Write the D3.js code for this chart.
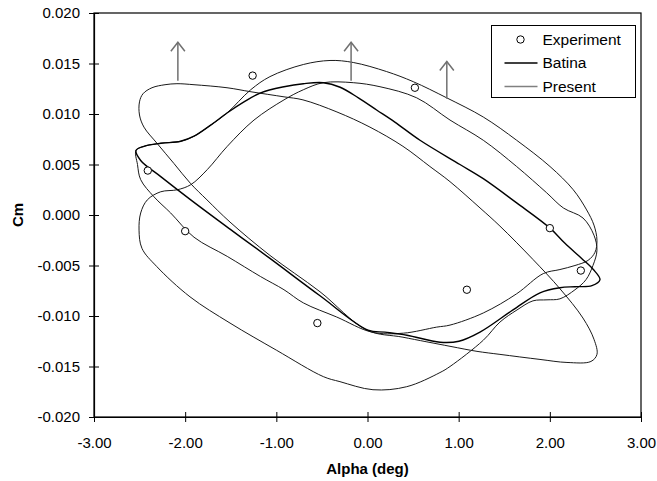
<!DOCTYPE html>
<html>
<head>
<meta charset="utf-8">
<script src="https://cdn.jsdelivr.net/npm/d3@7"></script>
<style>
    body { margin: 0; background: #fff; }
    text { font-family: "Liberation Sans", Arial, sans-serif; }
</style>
</head>
<body>
<div id="chart"></div>
<script>
// Marcas de los ejes
const xTicks = [-3, -2, -1, 0, 1, 2, 3];
const yTicks = [-0.020, -0.015, -0.010, -0.005, 0.000, 0.005, 0.010, 0.015, 0.020];

// Puntos experimentales
const expAlpha = [-2.41, -2.00, -1.26, -0.55, 0.52, 1.09, 2.00, 2.34];
const expCm = [0.0044, -0.0016, 0.0138, -0.0107, 0.0126, -0.0074, -0.0013, -0.0055];

// Lazo de Batina [alpha, Cm]
const batina = [
    [-2.539, 0.0064], [-2.452, 0.0068], [-2.268, 0.0071], [-2.049, 0.0073], [-1.903, 0.0078],
    [-1.720, 0.0089], [-1.541, 0.0101], [-1.355, 0.0112], [-1.172, 0.0121], [-0.916, 0.0127],
    [-0.704, 0.0130], [-0.485, 0.0131], [-0.300, 0.01265], [-0.100, 0.0116], [0.100, 0.0104],
    [0.300, 0.0092], [0.576, 0.0074], [1.014, 0.0050], [1.270, 0.0036], [1.636, 0.0012],
    [2.002, -0.0013], [2.166, -0.0028], [2.349, -0.0043], [2.477, -0.0054], [2.550, -0.0064],
    [2.462, -0.0070], [2.276, -0.0071], [2.111, -0.0072], [1.892, -0.0077], [1.596, -0.0094],
    [1.234, -0.0116], [1.003, -0.0125], [0.795, -0.0126], [0.433, -0.0119], [0.192, -0.0116],
    [0.005, -0.0114], [-0.521, -0.0080], [-1.070, -0.0043], [-1.508, -0.0014], [-1.939, 0.0015],
    [-2.268, 0.0038], [-2.488, 0.0054]
];

// Lazos del cálculo presente
const presentA = [
    [-2.501, 0.0112], [-2.463, 0.0120], [-2.364, 0.0126], [-2.221, 0.0129], [-2.090, 0.0130],
    [-1.903, 0.0129], [-1.541, 0.0126], [-1.278, 0.0122], [-0.916, 0.0117], [-0.708, 0.0114],
    [-0.335, 0.0102], [0.027, 0.0087], [0.389, 0.0068], [0.685, 0.0048], [0.905, 0.0033],
    [1.234, 0.0007], [1.453, -0.0011], [1.815, -0.0044], [2.111, -0.0073], [2.363, -0.0102],
    [2.484, -0.0123], [2.517, -0.0138], [2.451, -0.0145], [2.188, -0.0146], [1.892, -0.0143],
    [1.453, -0.0138], [1.201, -0.0135], [0.905, -0.0130], [0.389, -0.0121], [-0.006, -0.0114],
    [-0.521, -0.0076], [-1.070, -0.0040], [-1.508, -0.0007], [-1.761, 0.0015], [-1.939, 0.0031],
    [-2.123, 0.0051], [-2.309, 0.0071], [-2.452, 0.0087], [-2.501, 0.0099]
];

const presentB = [
    [-2.506, -0.0015], [-2.488, 0.0002], [-2.415, 0.0015], [-2.268, 0.0023], [-2.086, 0.0025],
    [-1.939, 0.0030], [-1.757, 0.0045], [-1.538, 0.0068], [-1.245, 0.0094], [-0.916, 0.0114],
    [-0.704, 0.0124], [-0.485, 0.0131], [-0.156, 0.0131], [0.137, 0.0127], [0.540, 0.0116],
    [0.905, 0.0094], [1.270, 0.0074], [1.636, 0.0048], [1.965, 0.0022], [2.148, 0.0007],
    [2.364, -0.0003], [2.484, -0.0020], [2.517, -0.0035], [2.473, -0.0050], [2.397, -0.0064],
    [2.276, -0.0074], [2.111, -0.0083], [1.969, -0.0084], [1.815, -0.0085], [1.640, -0.0094],
    [1.453, -0.0106], [1.270, -0.0124], [0.905, -0.0150], [0.795, -0.0156], [0.430, -0.0170],
    [0.060, -0.0173], [-0.302, -0.0165], [-0.485, -0.0160], [-0.996, -0.0134], [-1.508, -0.0107],
    [-1.947, -0.0081], [-2.312, -0.0051], [-2.474, -0.0033]
];

const presentC = [
    [-2.539, 0.0064], [-2.452, 0.0068], [-2.268, 0.0071], [-2.049, 0.0073], [-1.903, 0.0078],
    [-1.720, 0.0089], [-1.541, 0.0101], [-1.281, 0.0124], [-1.070, 0.0137], [-0.704, 0.0149],
    [-0.411, 0.0153], [-0.156, 0.0151], [0.210, 0.0142], [0.502, 0.0132], [0.869, 0.0116],
    [1.270, 0.0097], [1.636, 0.0074], [2.002, 0.0048], [2.257, 0.0025], [2.404, 0.0005],
    [2.484, -0.0010], [2.517, -0.0025], [2.495, -0.0037], [2.418, -0.0045], [2.276, -0.0050],
    [2.111, -0.0054], [1.928, -0.0058], [1.636, -0.0078], [1.270, -0.0097], [0.905, -0.0109],
    [0.759, -0.0111], [0.393, -0.0117], [0.049, -0.0116], [-0.338, -0.0101], [-0.704, -0.0087],
    [-0.916, -0.0074], [-1.172, -0.0061], [-1.538, -0.0041], [-1.903, -0.0022], [-2.159, 0.0002],
    [-2.342, 0.0018], [-2.488, 0.0035], [-2.523, 0.0050]
];

// Flechas (alpha, Cm inicial, Cm final)
const arrowAlpha = [-2.08, -0.18, 0.87];
const arrowFrom = [0.0133, 0.0133, 0.0115];
const arrowTo = [0.0171, 0.0171, 0.0152];

const legendLabels = ["Experiment", "Batina", "Present"];

// Configuración del gráfico
const margin = {top: 13, right: 16, bottom: 64, left: 94};
const width = 657 - margin.left - margin.right;
const height = 481 - margin.top - margin.bottom;
const presentColor = "#1a1a1a";

const svg = d3.select("#chart")
    .append("svg")
    .attr("width", 657)
    .attr("height", 481)
    .append("g")
    .attr("transform", `translate(${margin.left},${margin.top})`);

const x = d3.scaleLinear().domain([-3, 3]).range([0, width]);
const y = d3.scaleLinear().domain([-0.02, 0.02]).range([height, 0]);

// Marco del área de trazado
svg.append("rect")
    .attr("width", width)
    .attr("height", height)
    .attr("fill", "none")
    .attr("stroke", "#000")
    .attr("stroke-width", 1.2);

// Eje X
const xAxis = svg.append("g")
    .attr("transform", `translate(0,${height})`)
    .call(d3.axisBottom(x).tickValues(xTicks).tickSize(5).tickSizeOuter(0).tickPadding(15)
        .tickFormat(d => d.toFixed(2)));

// Eje Y
const yAxis = svg.append("g")
    .call(d3.axisLeft(y).tickValues(yTicks).tickSize(5).tickSizeOuter(0).tickPadding(9)
        .tickFormat(d => d.toFixed(3)));

[xAxis, yAxis].forEach(ax => {
    ax.select(".domain").attr("stroke", "#000").attr("stroke-width", 1.2);
    ax.selectAll(".tick text").style("font-size", "15px").attr("fill", "#000");
});
xAxis.selectAll(".tick line").attr("y1", -5).attr("y2", 5);
yAxis.selectAll(".tick line").attr("x1", -5).attr("x2", 5);

// Títulos de los ejes
svg.append("text")
    .attr("x", width / 2)
    .attr("y", height + 57)
    .attr("text-anchor", "middle")
    .style("font-size", "15px")
    .style("font-weight", "bold")
    .text("Alpha (deg)");

svg.append("text")
    .attr("transform", "rotate(-90)")
    .attr("x", -height / 2)
    .attr("y", -71)
    .attr("text-anchor", "middle")
    .style("font-size", "15px")
    .style("font-weight", "bold")
    .text("Cm");

// Lazos
const loop = d3.line()
    .x(d => x(d[0]))
    .y(d => y(d[1]))
    .curve(d3.curveCatmullRomClosed.alpha(0.5));

[presentA, presentB, presentC].forEach(pts => {
    svg.append("path")
        .attr("d", loop(pts))
        .attr("fill", "none")
        .attr("stroke", presentColor)
        .attr("stroke-width", 1);
});

svg.append("path")
    .attr("d", loop(batina))
    .attr("fill", "none")
    .attr("stroke", "#000")
    .attr("stroke-width", 1.4);

// Flechas
arrowAlpha.forEach((a, i) => {
    const ax = x(a), y0 = y(arrowFrom[i]), y1 = y(arrowTo[i]);
    const g = svg.append("g")
        .attr("stroke", "#707070")
        .attr("stroke-width", 1.5)
        .attr("fill", "none");
    g.append("line").attr("x1", ax).attr("x2", ax).attr("y1", y0).attr("y2", y1);
    g.append("path").attr("d", `M${ax - 7},${y1 + 9}L${ax},${y1}L${ax + 7},${y1 + 9}`);
});

// Puntos experimentales
svg.selectAll(".exp")
    .data(expAlpha)
    .enter()
    .append("circle")
    .attr("class", "exp")
    .attr("cx", d => x(d))
    .attr("cy", (d, i) => y(expCm[i]))
    .attr("r", 3.7)
    .attr("fill", "#fff")
    .attr("stroke", "#000")
    .attr("stroke-width", 1);

// Leyenda
const legend = svg.append("g")
    .attr("transform", `translate(${491.5 - margin.left},${25.5 - margin.top})`);

legend.append("rect")
    .attr("width", 144)
    .attr("height", 72)
    .attr("fill", "#fff")
    .attr("stroke", "#000")
    .attr("stroke-width", 1);

legendLabels.forEach((label, i) => {
    const ly = 14 + i * 23.5;
    if (i === 0) {
        legend.append("circle")
            .attr("cx", 29).attr("cy", ly).attr("r", 3.7)
            .attr("fill", "#fff").attr("stroke", "#000");
    } else {
        legend.append("line")
            .attr("x1", 13).attr("x2", 46).attr("y1", ly).attr("y2", ly)
            .attr("stroke", i === 1 ? "#000" : "#808080")
            .attr("stroke-width", 1.3);
    }
    legend.append("text")
        .attr("x", 51)
        .attr("y", ly)
        .attr("dy", "0.35em")
        .style("font-size", "15.5px")
        .text(label);
});
</script>
</body>
</html>
